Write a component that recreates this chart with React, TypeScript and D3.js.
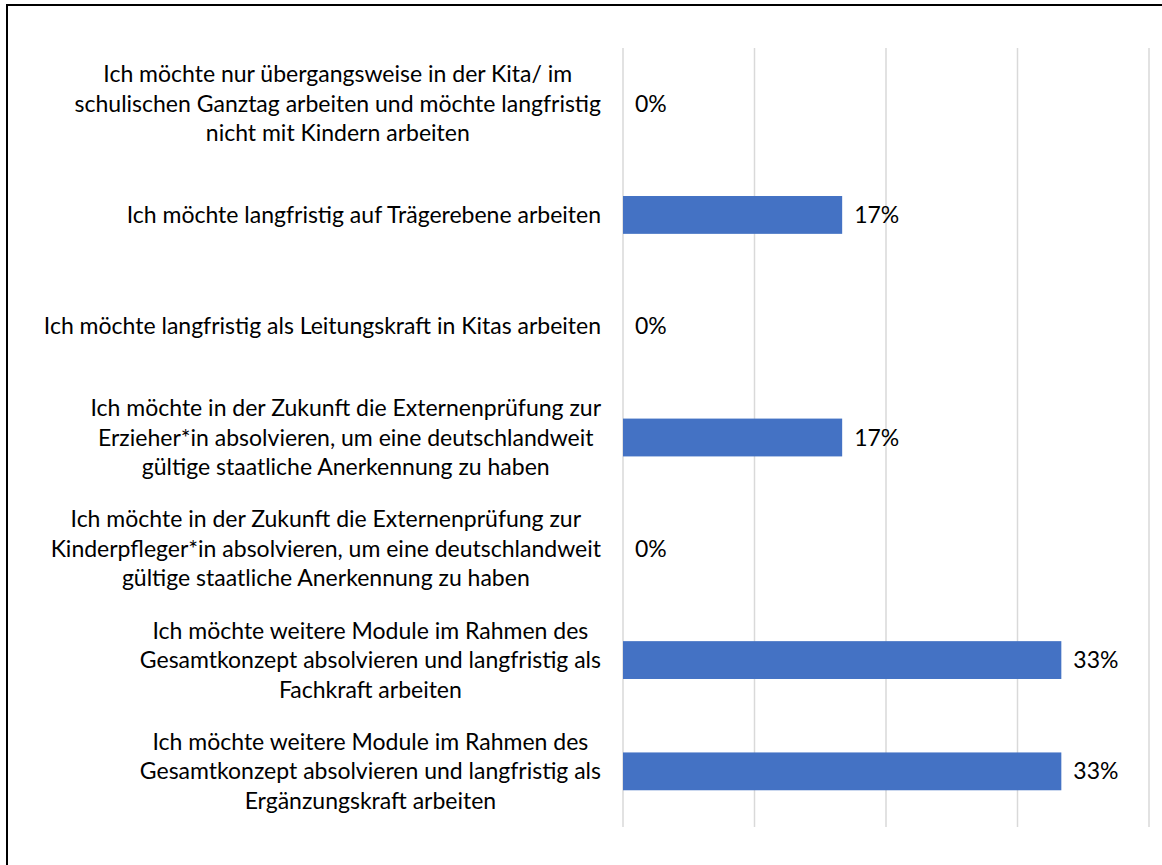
import React, { useRef, useEffect } from 'react';
import * as d3 from 'd3';

// categories, top to bottom, already wrapped the way the chart wraps them
const categories = [
  ['Ich möchte nur übergangsweise in der Kita/ im', 'schulischen Ganztag arbeiten und möchte langfristig', 'nicht mit Kindern arbeiten'],
  ['Ich möchte langfristig auf Trägerebene arbeiten'],
  ['Ich möchte langfristig als Leitungskraft in Kitas arbeiten'],
  ['Ich möchte in der Zukunft die Externenprüfung zur', 'Erzieher*in absolvieren, um eine deutschlandweit', 'gültige staatliche Anerkennung zu haben'],
  ['Ich möchte in der Zukunft die Externenprüfung zur', 'Kinderpfleger*in absolvieren, um eine deutschlandweit', 'gültige staatliche Anerkennung zu haben'],
  ['Ich möchte weitere Module im Rahmen des', 'Gesamtkonzept absolvieren und langfristig als', 'Fachkraft arbeiten'],
  ['Ich möchte weitere Module im Rahmen des', 'Gesamtkonzept absolvieren und langfristig als', 'Ergänzungskraft arbeiten'],
];
const shares = [0, 1 / 6, 0, 1 / 6, 0, 1 / 3, 1 / 3];
const ticks = [0, 0.1, 0.2, 0.3, 0.4];

const W = 1162;
const H = 865;
const FONT = 'Lato, "Open Sans", sans-serif';
const FS = 23;

function App() {
  const svgRef = useRef(null);

  useEffect(() => {
    const svg = d3.select(svgRef.current);
    svg.selectAll('*').remove();

    const x = d3.scaleLinear().domain([0, 0.4]).range([623, 1149]);
    const y = d3
      .scaleBand()
      .domain(categories.map((c, i) => i))
      .range([48, 827])
      .paddingInner(0.66)
      .paddingOuter(0.33);

    // outer frame
    svg
      .append('rect')
      .attr('x', 7)
      .attr('y', 5)
      .attr('width', W)
      .attr('height', H + 10)
      .attr('fill', 'white')
      .attr('stroke', '#000')
      .attr('stroke-width', 2);

    // grid
    svg
      .selectAll('.grid')
      .data(ticks)
      .join('line')
      .attr('class', 'grid')
      .attr('x1', d => x(d))
      .attr('x2', d => x(d))
      .attr('y1', 48)
      .attr('y2', 827)
      .attr('stroke', '#d9d9d9')
      .attr('stroke-width', 1.5);

    // bars
    svg
      .selectAll('.bar')
      .data(shares)
      .join('rect')
      .attr('class', 'bar')
      .attr('x', x(0))
      .attr('y', (d, i) => y(i))
      .attr('width', d => x(d) - x(0))
      .attr('height', y.bandwidth())
      .attr('fill', '#4472c4');

    // value labels
    svg
      .selectAll('.value')
      .data(shares)
      .join('text')
      .attr('class', 'value')
      .attr('x', d => x(d) + 12)
      .attr('y', (d, i) => y(i) + y.bandwidth() / 2 + 8)
      .attr('font-family', FONT)
      .attr('font-size', FS)
      .attr('fill', '#000')
      .text(d => d3.format('.0%')(d));

    // category labels, each block centred on its widest line, block right-aligned
    const lineH = 29.5;
    const right = 601;
    categories.forEach((lines, i) => {
      const cy = y(i) + y.bandwidth() / 2;
      const g = svg.append('g');
      const texts = g
        .selectAll('text')
        .data(lines)
        .join('text')
        .attr('font-family', FONT)
        .attr('font-size', FS)
        .attr('fill', '#000')
        .attr('text-anchor', 'middle')
        .attr('y', (d, j) => cy + (j - (lines.length - 1) / 2) * lineH + 8)
        .text(d => d);
      let maxW = 0;
      texts.each(function () {
        maxW = Math.max(maxW, this.getComputedTextLength());
      });
      texts.attr('x', right - maxW / 2);
    });
  }, []);

  return (
    <div style={{ position: 'absolute', left: 0, top: 0 }}>
      <svg ref={svgRef} width={W} height={H} style={{ display: 'block' }}></svg>
    </div>
  );
}

export default App;
